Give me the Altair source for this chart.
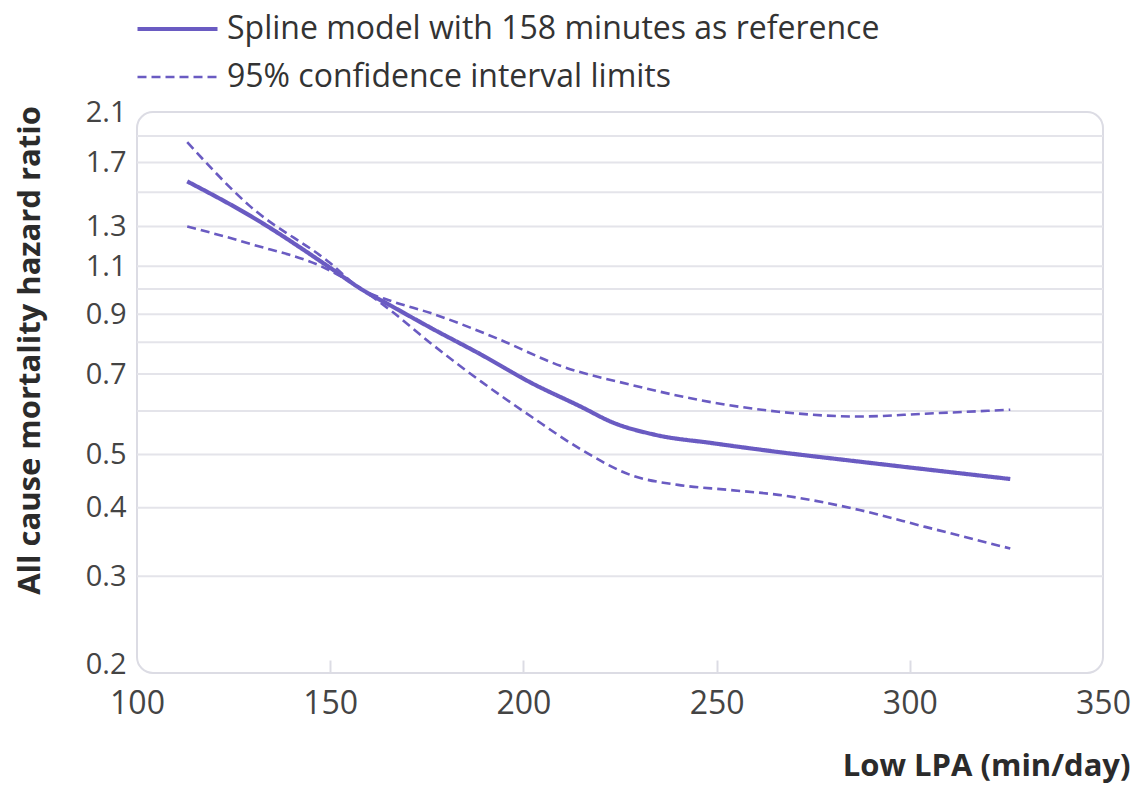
import altair as alt
import pandas as pd

MAIN = "Spline model with 158 minutes as reference"
CI = "95% confidence interval limits"

x_main = [113, 130, 150, 158, 166, 176, 189, 202, 215, 223, 234, 249, 266, 287, 306, 326]
hr_main = [1.57, 1.35, 1.093, 1.0, 0.93, 0.85, 0.76, 0.675, 0.61, 0.572, 0.543, 0.524, 0.505, 0.485, 0.468, 0.451]

x_up = [113, 129, 150, 158, 166, 176, 193, 210, 228, 245, 266, 287, 304, 326]
hr_up = [1.85, 1.42, 1.115, 1.0, 0.95, 0.904, 0.814, 0.723, 0.669, 0.629, 0.598, 0.586, 0.593, 0.603]

x_lo = [113, 129, 150, 158, 166, 176, 189, 202, 215, 228, 240, 253, 266, 287, 304, 326]
hr_lo = [1.30, 1.21, 1.08, 1.0, 0.91, 0.797, 0.679, 0.586, 0.51, 0.458, 0.44, 0.431, 0.422, 0.396, 0.369, 0.337]

y_labels = [0.2, 0.3, 0.4, 0.5, 0.7, 0.9, 1.1, 1.3, 1.7, 2.1]
y_grid = [0.3, 0.4, 0.5, 0.6, 0.7, 0.8, 0.9, 1.0, 1.1, 1.3, 1.5, 1.7, 1.9]
x_ticks = [100, 150, 200, 250, 300, 350]

rows = []
for x, v in zip(x_main, hr_main):
    rows.append({"lpa": x, "hr": v, "series": MAIN, "line": "main"})
for x, v in zip(x_up, hr_up):
    rows.append({"lpa": x, "hr": v, "series": CI, "line": "upper"})
for x, v in zip(x_lo, hr_lo):
    rows.append({"lpa": x, "hr": v, "series": CI, "line": "lower"})
df = pd.DataFrame(rows)
grid_df = pd.DataFrame({"g": y_grid})

FONT = "Open Sans"
PURPLE = "#6a5bc2"
YTITLE = "All cause mortality hazard ratio"

xscale = alt.Scale(domain=[100, 350], nice=False, zero=False)
yscale = alt.Scale(type="log", domain=[0.2, 2.1], nice=False)

yaxis = alt.Axis(
    values=y_labels,
    grid=False,
    domain=False,
    ticks=False,
    labelPadding=11,
    labelFontSize=29,
    labelColor="#444444",
    labelFont=FONT,
    labelOverlap=False,
    labelFlush=False,
    labelBaseline=alt.condition("datum.value < 0.25", alt.value("alphabetic"), alt.value("middle")),
    format="~g",
    titleFont=FONT,
    titleFontSize=31,
    titleFontWeight="bold",
    titleColor="#2b2b2b",
    titleAngle=270,
    titleAlign="center",
    titleBaseline="middle",
    titleX=-107,
    titleY=238,
)

grid = alt.Chart(grid_df).mark_rule(color="#e4e4ea", strokeWidth=2).encode(
    y=alt.Y("g:Q", scale=yscale, axis=yaxis, title=YTITLE)
)

lines = alt.Chart(df).mark_line(color=PURPLE, interpolate="monotone").encode(
    x=alt.X(
        "lpa:Q",
        scale=xscale,
        title="Low LPA (min/day)",
        axis=alt.Axis(
            values=x_ticks,
            grid=False,
            domain=False,
            offset=-13,
            tickSize=13,
            tickColor="#dcdce4",
            tickWidth=2,
            tickOpacity=alt.condition("datum.value == 100 || datum.value == 350", alt.value(0), alt.value(1)),
            labelPadding=15,
            labelFontSize=32,
            labelColor="#444444",
            labelFont=FONT,
            labelFlush=False,
            labelOverlap=False,
            titleFont=FONT,
            titleFontSize=31,
            titleFontWeight="bold",
            titleColor="#2b2b2b",
            titleAnchor="end",
            titleAlign="right",
            titleX=993,
            titleY=106,
            titleBaseline="middle",
        ),
    ),
    y=alt.Y("hr:Q", scale=yscale, axis=yaxis, title=YTITLE),
    detail="line:N",
    strokeDash=alt.StrokeDash(
        "series:N",
        scale=alt.Scale(domain=[MAIN, CI], range=[[1, 0], [9, 5]]),
        legend=alt.Legend(title=None),
    ),
    strokeWidth=alt.StrokeWidth(
        "series:N",
        scale=alt.Scale(domain=[MAIN, CI], range=[4.2, 2.6]),
        legend=alt.Legend(title=None),
    ),
)

chart = (
    alt.layer(grid, lines)
    .properties(
        width=966,
        height=561,
        padding={"left": 137, "top": 112, "right": 36, "bottom": 113},
        autosize=alt.AutoSizeParams(type="none"),
        background="white",
    )
    .configure_view(stroke="#dcdce4", strokeWidth=2, cornerRadius=16)
    .configure_legend(
        orient="none",
        legendX=-2,
        legendY=-98,
        symbolType="stroke",
        symbolSize=6400,
        symbolStrokeColor=PURPLE,
        labelFont=FONT,
        labelFontSize=32,
        labelColor="#333333",
        labelLimit=0,
        labelOffset=7,
        clipHeight=30,
        rowPadding=16,
    )
)

chart.save("out.html", embed_options={"renderer": "svg", "actions": False})
